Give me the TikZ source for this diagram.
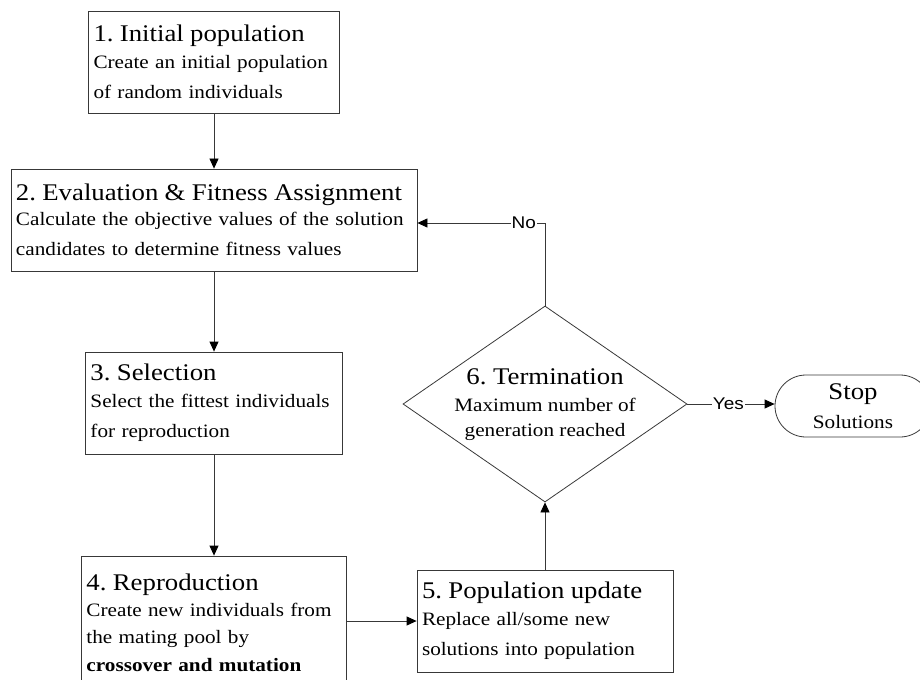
\documentclass[tikz,border=0pt]{standalone}
\usepackage{fontspec}
\setmainfont{Liberation Serif}[FakeStretch=1.12]
\newfontfamily\labelsans{Liberation Sans}[FakeStretch=1.12]
\usetikzlibrary{shapes.geometric,shapes.misc,arrows.meta,calc}
\newcommand\ttlfont{\fontsize{24}{28}\selectfont}
\newcommand\bdyfont{\fontsize{19}{30}\selectfont}
\newcommand\diafont{\fontsize{19}{25}\selectfont}
\definecolor{linecol}{gray}{0.22}
\frenchspacing
\begin{document}
\frenchspacing
\begin{tikzpicture}[x=1bp,y=-1bp,
  box/.style={draw=linecol, rectangle, line width=0.8bp, inner xsep=5bp, inner ysep=0bp, align=left, font=\bdyfont},
  arr/.style={draw=linecol, line width=0.8bp, -{Triangle[length=10bp,width=9bp,color=black]}},
  lbl/.style={font=\labelsans\fontsize{17}{18}\selectfont, fill=white, inner sep=1bp}]
\useasboundingbox (0,0) rectangle (920,680);
\clip (0,0) rectangle (920,680);

\node[box, minimum width=251bp, minimum height=102bp, text width=241bp] (b1) at (214,62)
  {{\ttlfont 1. Initial population}\\[-3bp]Create an initial population\\of random individuals};
\node[box, minimum width=406bp, minimum height=102bp, text width=396bp] (b2) at (214,220)
  {{\ttlfont 2. Evaluation \& Fitness Assignment}\\[-5bp]Calculate the objective values of the solution\\candidates to determine fitness values};
\node[box, minimum width=257bp, minimum height=102bp, text width=247bp] (b3) at (214,403)
  {{\ttlfont 3. Selection}\\[-3bp]Select the fittest individuals\\for reproduction};
\node[box, minimum width=265bp, minimum height=134bp, text width=255bp] (b4) at (214,623)
  {{\ttlfont 4. Reproduction}\\[-4bp]Create new individuals from\\[-3bp]the mating pool by\\[-2bp]\textbf{crossover and mutation}};
\node[box, minimum width=256bp, minimum height=102bp, text width=246bp] (b5) at (545,621)
  {{\ttlfont 5. Population update}\\[-3bp]Replace all/some new\\solutions into population};

\node[draw=linecol, diamond, line width=0.8bp, minimum width=284bp, minimum height=196bp, inner sep=0pt] (dia) at (545,404) {};
\node[align=center, font=\diafont, inner sep=0pt] (diatext) at (545,405)
  {{\ttlfont 6. Termination}\\[2bp]Maximum number of\\generation reached};

\node[draw=linecol, rounded rectangle, line width=0.8bp, minimum width=156bp, minimum height=62bp, align=center, font=\bdyfont, inner sep=0pt] (stop) at (853,406)
  {{\ttlfont Stop}\\[-1bp]Solutions};

\draw[arr] (b1.south) -- (b2.north);
\draw[arr] (b2.south) -- (b3.north);
\draw[arr] (b3.south) -- (b4.north);
\draw[arr] (b4.east |- b5.west) -- (b5.west);
\draw[arr] (b5.north) -- (dia.south);
\draw[arr] (dia.north) |- node[lbl, pos=0.583] {No} ([yshift=-3bp]b2.east);
\draw[arr] (dia.east) -- node[lbl, pos=0.47] {Yes} (dia.east -| stop.west);
\end{tikzpicture}
\end{document}
